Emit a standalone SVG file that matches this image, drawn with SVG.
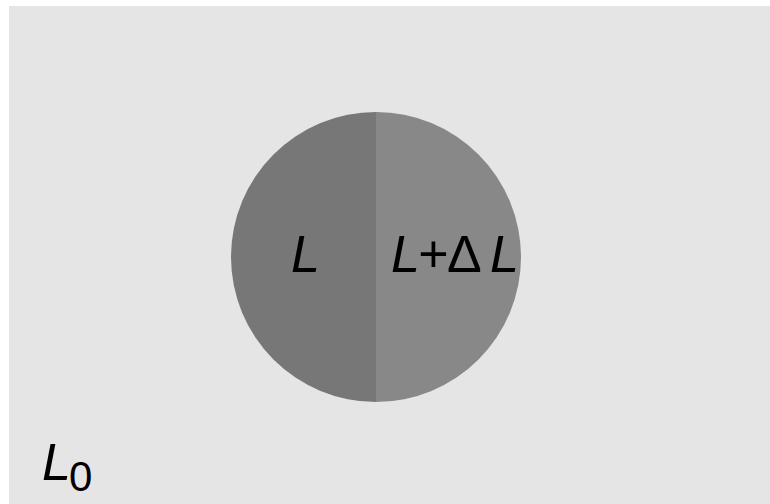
<svg xmlns="http://www.w3.org/2000/svg" width="770" height="504" viewBox="0 0 770 504">
<style>
.t{font-family:"Liberation Sans",Arial,sans-serif;fill:#000}
.i{font-style:italic}
</style>
<rect x="0" y="0" width="770" height="504" fill="#ffffff"/>
<rect id="background" x="9" y="6" width="761" height="498" fill="#e5e5e5"/>
<g id="disk">
<path d="M376,112 A145,145 0 0 0 376,402 Z" fill="#777777"/>
<path d="M376,112 A145,145 0 0 1 376,402 Z" fill="#888888"/>
</g>
<g id="labels">
<text class="t i" x="291" y="272" font-size="52">L</text>
<text class="t" x="391" y="272" font-size="52" textLength="128" lengthAdjust="spacing"><tspan class="i">L</tspan>+Δ <tspan class="i">L</tspan></text>
<text class="t" x="42" y="480" font-size="52"><tspan class="i">L</tspan><tspan font-size="42" dy="11" dx="-2">0</tspan></text>
</g>
</svg>
